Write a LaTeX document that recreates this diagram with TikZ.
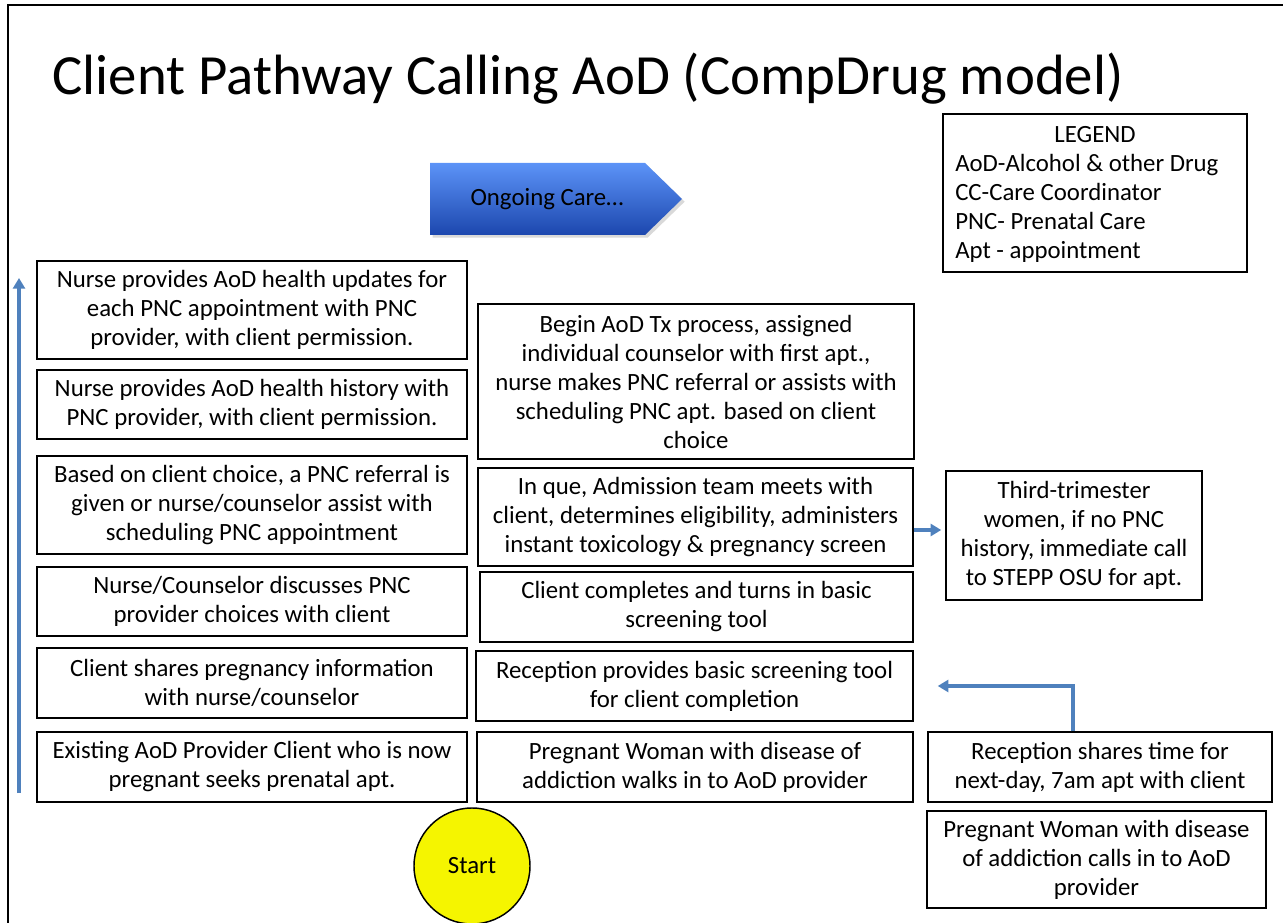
\documentclass[tikz,border=0pt]{standalone}
\usepackage{fontspec}
\setmainfont{Carlito}
\usetikzlibrary{arrows.meta,shadows,calc}

\definecolor{flowblue}{HTML}{4F81BD}
\definecolor{cardtop}{HTML}{5C93F7}
\definecolor{cardbot}{HTML}{1C47AE}
\definecolor{startyel}{HTML}{F5F500}

\newcommand{\bodyfont}{\fontsize{18.6}{21.75}\selectfont}

\tikzset{
  stepbox/.style={draw, line width=1.1pt, align=center, inner sep=0pt, font=\bodyfont},
  flow/.style={draw=flowblue, line width=2.4pt, -{Triangle[length=8pt,width=9pt]}},
}

\begin{document}
\begin{tikzpicture}[x=0.75pt, y=-0.75pt]
        \useasboundingbox (0,0) rectangle (1283,923);
        \draw[line width=1.5pt] (8,923) -- (8,5) -- (1283,5);
        \node[anchor=base west, font=\fontsize{42.6}{46}\selectfont] (title) at (48,95)
            {Client Pathway Calling AoD (CompDrug model)};

        % legend
        \node[draw, line width=2.2pt, minimum width=228pt, minimum height=118.5pt] (legend) at (1095,193) {};
        \node[anchor=base, font=\bodyfont] (legendhead) at (1095,143) {LEGEND};
        \node[anchor=base west, align=left, inner sep=0pt, font=\bodyfont] (legendtext) at (955,259)
            {AoD-Alcohol \& other Drug\\ CC-Care Coordinator\\ PNC- Prenatal Care\\ Apt - appointment};

        % ongoing care
        \shade[top color=cardtop, bottom color=cardbot, drop shadow={shadow xshift=2pt, shadow yshift=-2pt, opacity=0.3}]
            (430,163) -- (645,163) -- (682,199) -- (645,235) -- (430,235) -- cycle;
        \node[font=\bodyfont] (care) at (547,199) {Ongoing Care…};

        % left column
        \node[stepbox, minimum width=322.5pt, minimum height=73.5pt] (b1) at (252,310)
            {Nurse provides AoD health updates for\\ each PNC appointment with PNC\\ provider, with client permission.};
        \node[stepbox, minimum width=322.5pt, minimum height=51.75pt] (b2) at (252,404.5)
            {Nurse provides AoD health history with\\ PNC provider, with client permission.};
        \node[stepbox, minimum width=322.5pt, minimum height=73.5pt] (b3) at (252,505)
            {Based on client choice, a PNC referral is\\ given or nurse/counselor assist with\\ scheduling PNC appointment};
        \node[stepbox, minimum width=322.5pt, minimum height=51.75pt] (b4) at (252,601.5)
            {Nurse/Counselor discusses PNC\\ provider choices with client};
        \node[stepbox, minimum width=322.5pt, minimum height=52.5pt] (b5) at (252,683)
            {Client shares pregnancy information\\ with nurse/counselor};
        \node[stepbox, minimum width=322.5pt, minimum height=52.5pt] (b6) at (252,767)
            {Existing AoD Provider Client who is now\\ pregnant seeks prenatal apt.};

        % middle column
        \node[stepbox, minimum width=327pt, minimum height=116.25pt] (m1) at (696,381.5)
            {Begin AoD Tx process, assigned\\ individual counselor with first apt.,\\ nurse makes PNC referral or assists with\\ scheduling PNC apt. based on client\\ choice};
        \node[stepbox, minimum width=326.25pt, minimum height=73.5pt] (m2) at (695.5,517)
            {In que, Admission team meets with\\ client, determines eligibility, administers\\ instant toxicology \& pregnancy screen};
        \node[stepbox, minimum width=324.75pt, minimum height=52.5pt] (m3) at (696.5,607)
            {Client completes and turns in basic\\ screening tool};
        \node[stepbox, minimum width=327.75pt, minimum height=52.5pt] (m4) at (694.5,686)
            {Reception provides basic screening tool\\ for client completion};
        \node[stepbox, minimum width=327pt, minimum height=52.5pt] (m5) at (695,767)
            {Pregnant Woman with disease of\\ addiction walks in to AoD provider};

        % right column
        \node[stepbox, minimum width=192pt, minimum height=96.75pt] (t) at (1074,535.5)
            {Third-trimester\\ women, if no PNC\\ history, immediate call\\ to STEPP OSU for apt.};
        \node[stepbox, minimum width=258pt, minimum height=52.5pt] (r1) at (1100,767)
            {Reception shares time for\\ next-day, 7am apt with client};
        \node[stepbox, minimum width=254.25pt, minimum height=72.75pt] (r2) at (1096.5,859.5)
            {Pregnant Woman with disease\\ of addiction calls in to AoD\\ provider};

        \node[circle, draw, line width=1.1pt, fill=startyel, minimum size=87pt, inner sep=0pt,
              font=\bodyfont] (start) at (472,866) {Start};

        \coordinate (up0) at (19,793);
        \coordinate (up1) at (19,278);
        \coordinate (m2out) at ($(m2.east)+(0,13)$);
        \coordinate (r1up) at ($(r1.north)+(-27,0)$);
        \draw[flow] (up0) -- (up1);
        \draw[flow, shorten >=3pt] (m2out) -- (m2out -| t.west);
        \draw[flow, shorten >=18pt] (r1up) |- (m4.east);
\end{tikzpicture}
\end{document}
